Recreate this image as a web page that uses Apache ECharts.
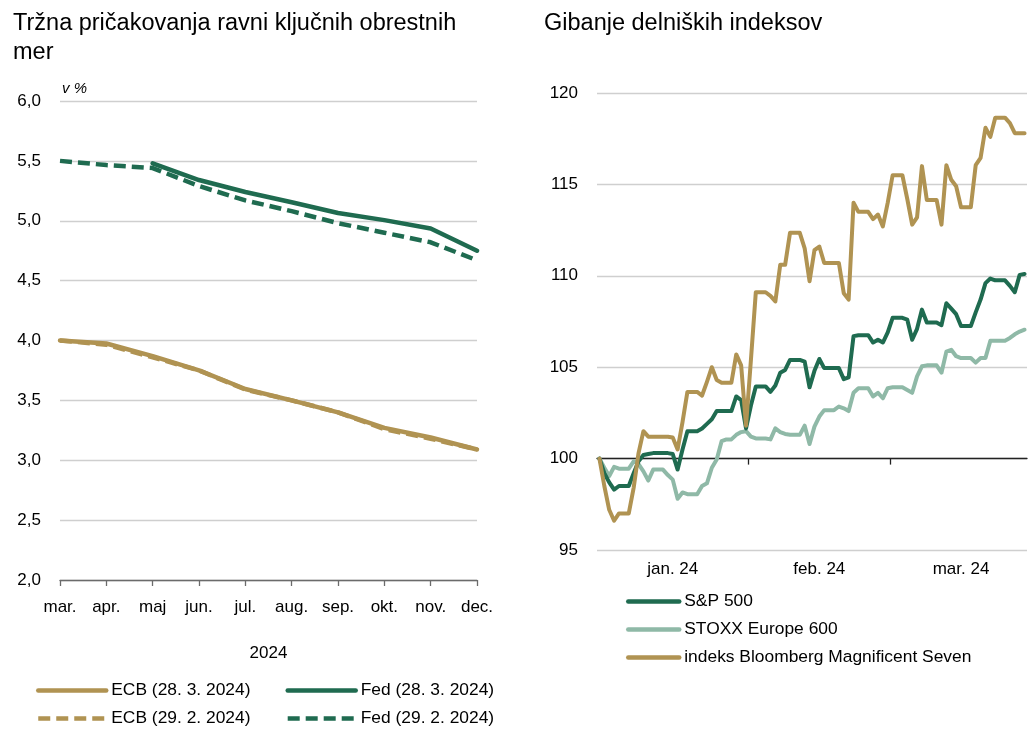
<!DOCTYPE html>
<html>
<head>
<meta charset="utf-8">
<script src="https://cdn.jsdelivr.net/npm/echarts@6/dist/echarts.min.js"></script>
<style>
html, body { margin: 0; padding: 0; background: #fff; }
#chart { width: 1033px; height: 729px; }
</style>
</head>
<body>
<div id="chart"></div>
<script>
var myChart = echarts.init(document.getElementById('chart'));

var FONT = '"Liberation Sans", Arial, sans-serif';
var GOLD = '#B09352';
var GREEN = '#1F6B50';
var LIGHT = '#8FB9A7';
var GRID = '#CFCFCF';

// levo: tržna pričakovanja (v %)
var months = ['mar.', 'apr.', 'maj', 'jun.', 'jul.', 'aug.', 'sep.', 'okt.', 'nov.', 'dec.'];
var ecbMar = [4.00, 3.975, 3.87, 3.75, 3.595, 3.50, 3.40, 3.27, 3.19, 3.09];
var ecbFeb = [4.00, 3.965, 3.86, 3.75, 3.59, 3.50, 3.40, 3.26, 3.18, 3.09];
var fedMar = [null, null, 5.48, 5.34, 5.24, 5.155, 5.065, 5.005, 4.935, 4.75];
var fedFeb = [5.50, 5.465, 5.44, 5.29, 5.17, 5.08, 4.98, 4.90, 4.82, 4.67];
var leftTicks = [2.0, 2.5, 3.0, 3.5, 4.0, 4.5, 5.0, 5.5, 6.0];

// desno: delniški indeksi, koledarski dnevi od 1. 1. 2024 (= 100)
var dayCount = 88;
var monthLabels = ['jan. 24', 'feb. 24', 'mar. 24'];
var rightTicks = [95, 100, 105, 110, 115, 120];

var sp500 = [
  100.0, 99.2, 98.7, 98.3, 98.5, 98.5, 98.5, 99.2, 99.85, 100.2,
  100.25, 100.3, 100.3, 100.3, 100.3, 100.25, 99.4, 100.5, 101.5, 101.5,
  101.5, 101.65, 101.9, 102.15, 102.6, 102.6, 102.6, 102.6, 103.4, 103.2,
  101.65, 102.9, 103.95, 103.95, 103.95, 103.65, 104.0, 104.7, 104.85, 105.4,
  105.4, 105.4, 105.3, 103.9, 104.8, 105.45, 104.95, 104.95, 104.95, 104.95,
  104.35, 104.45, 106.7, 106.75, 106.75, 106.75, 106.35, 106.5, 106.35, 106.9,
  107.7, 107.7, 107.7, 107.6, 106.5, 107.1, 108.15, 107.45, 107.45, 107.45,
  107.3, 108.5, 108.2, 107.9, 107.25, 107.25, 107.25, 108.0, 108.7, 109.6,
  109.85, 109.75, 109.75, 109.75, 109.45, 109.1, 110.05, 110.1
];
var stoxx600 = [
  100.0, 99.5, 99.05, 99.55, 99.45, 99.45, 99.45, 99.85, 99.7, 99.3,
  98.8, 99.4, 99.4, 99.4, 99.1, 98.85, 97.8, 98.15, 98.05, 98.05,
  98.05, 98.5, 98.65, 99.5, 99.95, 100.95, 101.05, 101.05, 101.3, 101.45,
  101.5, 101.2, 101.1, 101.1, 101.1, 101.05, 101.65, 101.45, 101.35, 101.3,
  101.3, 101.3, 101.8, 100.8, 101.75, 102.3, 102.65, 102.65, 102.65, 102.85,
  102.75, 102.6, 103.6, 103.85, 103.85, 103.85, 103.4, 103.6, 103.3, 103.85,
  103.9, 103.9, 103.9, 103.75, 103.6, 104.5, 105.05, 105.1, 105.1, 105.1,
  104.7, 105.85, 105.95, 105.6, 105.5, 105.5, 105.5, 105.25, 105.5, 105.5,
  106.45, 106.45, 106.45, 106.45, 106.6, 106.8, 106.95, 107.05
];
var mag7 = [
  100.0, 98.5, 97.2, 96.6, 97.0, 97.0, 97.0, 98.4, 100.3, 101.5,
  101.2, 101.2, 101.2, 101.2, 101.2, 101.15, 100.5, 102.0, 103.65, 103.65,
  103.65, 103.45, 104.2, 105.0, 104.3, 104.15, 104.15, 104.15, 105.7, 105.1,
  101.8, 105.4, 109.1, 109.1, 109.1, 108.9, 108.6, 110.6, 110.6, 112.35,
  112.35, 112.35, 111.5, 109.7, 111.4, 111.6, 110.7, 110.7, 110.7, 110.7,
  109.05, 108.7, 114.0, 113.5, 113.5, 113.5, 113.1, 113.35, 112.7, 114.0,
  115.5, 115.5, 115.5, 114.2, 112.8, 113.2, 116.0, 114.15, 114.15, 114.15,
  112.8, 116.05, 115.25, 114.9, 113.75, 113.75, 113.75, 116.05, 116.45, 118.1,
  117.6, 118.65, 118.65, 118.65, 118.35, 117.8, 117.8, 117.8
];

// koledarski dnevi in sredina vsakega meseca za napis
var days = [];
for (var d = 0; d < dayCount; d++) {
  days.push(new Date(Date.UTC(2024, 0, 1 + d)).toISOString().slice(0, 10));
}
var labelAt = {};
monthLabels.forEach(function (lab, m) {
  var idx = [];
  days.forEach(function (s, i) { if (+s.slice(5, 7) === m + 1) idx.push(i); });
  labelAt[Math.round((idx[0] + idx[idx.length - 1]) / 2)] = lab;
});
// os za črto pri 100 - meje med dnevi
var bounds = days.concat(['']);

var txt = { fontFamily: FONT, fontSize: 17, color: '#000' };
var legendTxt = { fontFamily: FONT, fontSize: 17.4, color: '#000' };
var titleTxt = { fontFamily: FONT, fontSize: 23.5, fontWeight: 'normal', color: '#000', lineHeight: 29 };

var rightTop = 93, rightHeight = 457;
var line100 = rightTop + rightHeight * (120 - 100) / (120 - 95);

var legendBase = {
  padding: 0, itemWidth: 68, itemHeight: 14, itemGap: 35,
  textStyle: legendTxt, lineStyle: { width: 4.5 }, itemStyle: { opacity: 0 }
};

option = {
  backgroundColor: '#fff',
  animation: false,
  title: [{
    text: 'Tržna pričakovanja ravni ključnih obrestnih\nmer',
    left: 13, top: 9, padding: 0, textStyle: titleTxt
  }, {
    text: 'Gibanje delniških indeksov',
    left: 544, top: 9, padding: 0, textStyle: titleTxt
  }],
  legend: [
    Object.assign({}, legendBase, { data: ['ECB (28. 3. 2024)', 'Fed (28. 3. 2024)'], left: 36, top: 682 }),
    Object.assign({}, legendBase, { data: ['ECB (29. 2. 2024)', 'Fed (29. 2. 2024)'], left: 36, top: 710 }),
    Object.assign({}, legendBase, {
      data: ['S&P 500', 'STOXX Europe 600', 'indeks Bloomberg Magnificent Seven'],
      orient: 'vertical', left: 626, top: 593, itemWidth: 51, itemGap: 11
    })
  ],
  grid: [
    { left: 60, right: 556, top: 101, bottom: 149 },
    { left: 597, right: 6, top: rightTop, height: rightHeight },
    { left: 597, right: 6, top: line100, height: 20 }
  ],
  xAxis: [{
    gridIndex: 0, type: 'category', data: months, boundaryGap: false,
    name: '2024', nameLocation: 'middle', nameGap: 65, nameTextStyle: txt,
    axisLine: { lineStyle: { color: '#6B6B6B', width: 1.3 } },
    axisTick: { length: 6, lineStyle: { color: '#6B6B6B', width: 1.3 } },
    axisLabel: Object.assign({ margin: 19, interval: 0 }, txt),
    splitLine: { show: false }
  }, {
    gridIndex: 1, type: 'category', data: days, boundaryGap: true,
    axisLine: { show: false }, axisTick: { show: false },
    axisLabel: Object.assign({
      margin: 11,
      interval: function (i) { return labelAt[i] !== undefined; },
      formatter: function (v, i) { return labelAt[i] || ''; }
    }, txt),
    splitLine: { show: false }
  }, {
    gridIndex: 2, type: 'category', data: bounds, boundaryGap: false, position: 'top',
    axisLine: { onZero: false, lineStyle: { color: '#222', width: 1.3 } },
    axisTick: {
      inside: true, length: 6, lineStyle: { color: '#222', width: 1.3 },
      interval: function (i, v) { return i > 0 && v.slice(8) === '01'; }
    },
    axisLabel: { show: false }
  }],
  yAxis: [{
    gridIndex: 0, type: 'value', min: leftTicks[0], max: leftTicks[leftTicks.length - 1], interval: 0.5,
    name: 'v %', nameLocation: 'end', nameGap: 5,
    nameTextStyle: { fontFamily: FONT, fontSize: 15, fontStyle: 'italic', color: '#000', align: 'left', padding: [0, 0, 0, 2] },
    axisLine: { show: false }, axisTick: { show: false },
    axisLabel: Object.assign({ margin: 19, formatter: function (v) { return v.toFixed(1).replace('.', ','); } }, txt),
    splitLine: { lineStyle: { color: GRID, width: 1.3 } }
  }, {
    gridIndex: 1, type: 'value', min: rightTicks[0], max: rightTicks[rightTicks.length - 1], interval: 5,
    axisLine: { show: false }, axisTick: { show: false },
    axisLabel: Object.assign({ margin: 19 }, txt),
    splitLine: { lineStyle: { color: GRID, width: 1.3 } }
  }, {
    gridIndex: 2, type: 'value', show: false
  }],
  series: [{
    name: 'ECB (29. 2. 2024)', type: 'line', xAxisIndex: 0, yAxisIndex: 0,
    data: ecbFeb, symbol: 'none', color: GOLD,
    lineStyle: { color: GOLD, width: 4.5, type: [12, 6] }
  }, {
    name: 'Fed (29. 2. 2024)', type: 'line', xAxisIndex: 0, yAxisIndex: 0,
    data: fedFeb, symbol: 'none', color: GREEN,
    lineStyle: { color: GREEN, width: 4.5, type: [12, 6] }
  }, {
    name: 'ECB (28. 3. 2024)', type: 'line', xAxisIndex: 0, yAxisIndex: 0,
    data: ecbMar, symbol: 'none', color: GOLD,
    lineStyle: { color: GOLD, width: 4.5, cap: 'round', join: 'round' }
  }, {
    name: 'Fed (28. 3. 2024)', type: 'line', xAxisIndex: 0, yAxisIndex: 0,
    data: fedMar, symbol: 'none', color: GREEN,
    lineStyle: { color: GREEN, width: 4.5, cap: 'round', join: 'round' }
  }, {
    name: 'STOXX Europe 600', type: 'line', xAxisIndex: 1, yAxisIndex: 1,
    data: stoxx600, symbol: 'none', color: LIGHT,
    lineStyle: { color: LIGHT, width: 4, join: 'round', cap: 'round' }
  }, {
    name: 'S&P 500', type: 'line', xAxisIndex: 1, yAxisIndex: 1,
    data: sp500, symbol: 'none', color: GREEN,
    lineStyle: { color: GREEN, width: 4, join: 'round', cap: 'round' }
  }, {
    name: 'indeks Bloomberg Magnificent Seven', type: 'line', xAxisIndex: 1, yAxisIndex: 1,
    data: mag7, symbol: 'none', color: GOLD,
    lineStyle: { color: GOLD, width: 4, join: 'round', cap: 'round' }
  }]
};
myChart.setOption(option);
</script>
</body>
</html>
